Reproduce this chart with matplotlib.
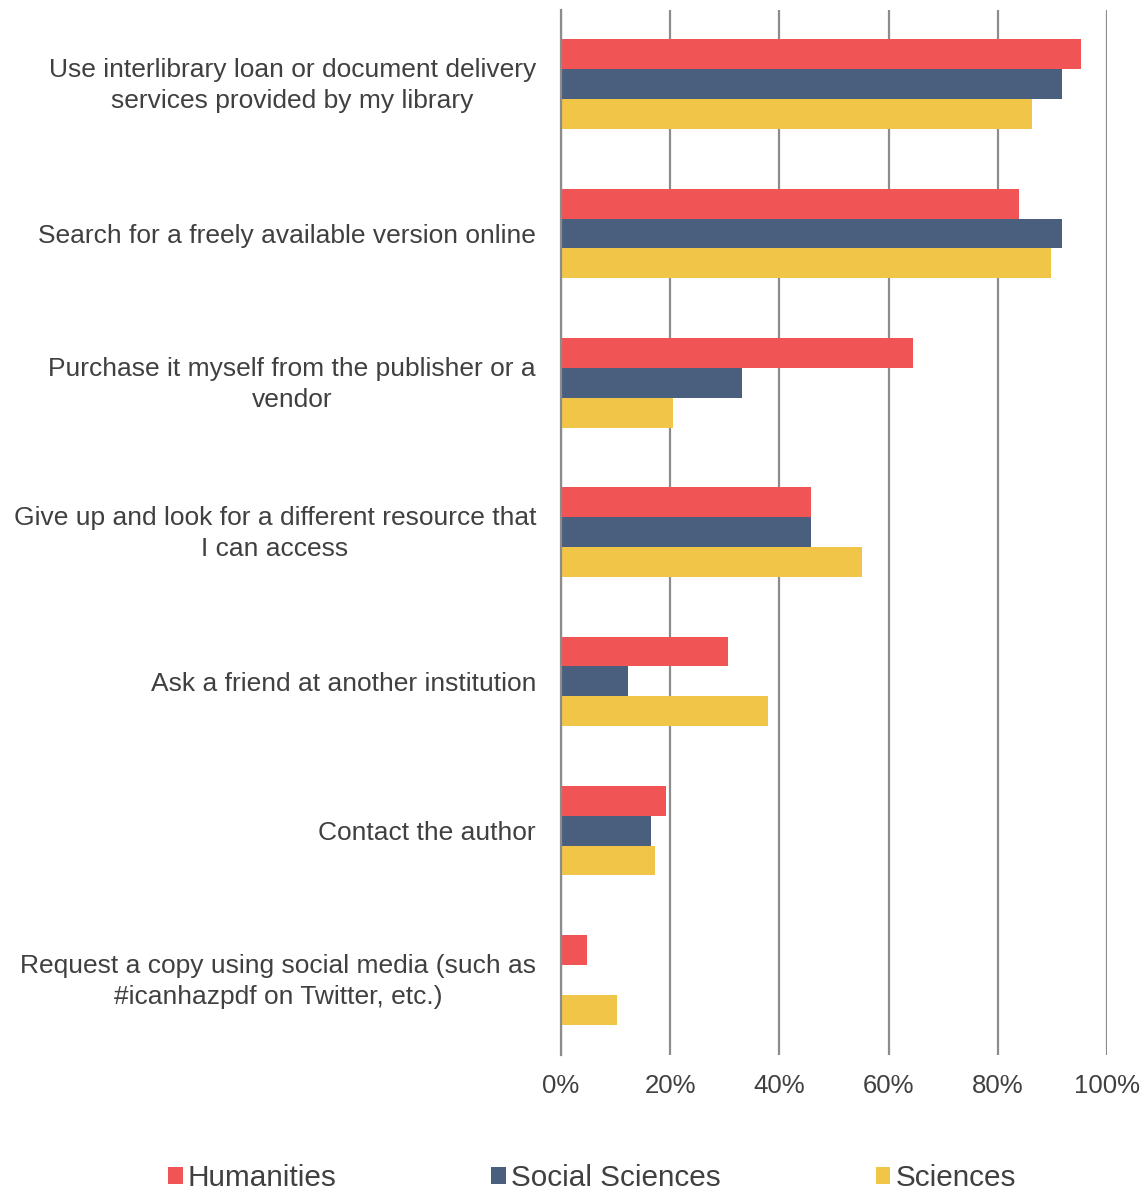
import matplotlib
matplotlib.use("Agg")
import matplotlib.pyplot as plt
import matplotlib.transforms as mtransforms
import numpy as np
from matplotlib.patches import Patch

categories = [
    "Use interlibrary loan or document delivery\nservices provided by my library",
    "Search for a freely available version online",
    "Purchase it myself from the publisher or a\nvendor",
    "Give up and look for a different resource that\nI can access",
    "Ask a friend at another institution",
    "Contact the author",
    "Request a copy using social media (such as\n#icanhazpdf on Twitter, etc.)",
]
series_names = ["Humanities", "Social Sciences", "Sciences"]
humanities = [95.3, 83.9, 64.5, 45.8, 30.6, 19.2, 4.8]
social_sciences = [91.8, 91.8, 33.2, 45.8, 12.3, 16.5, 0.0]
sciences = [86.3, 89.7, 20.5, 55.1, 37.9, 17.2, 10.3]
x_ticks = [0, 20, 40, 60, 80, 100]
x_tick_labels = ["0%", "20%", "40%", "60%", "80%", "100%"]

colors = ["#F05454", "#4A5F7D", "#F0C548"]
text_color = "#404040"
grid_color = "#8C8C8C"

plt.rcParams["font.family"] = ["Liberation Sans", "DejaVu Sans"]

fig = plt.figure(figsize=(11.48, 11.93), dpi=100)
W, H = 1148, 1193
left, right, top, bottom = 561, 1107, 9.5, 1054.5
ax = fig.add_axes([left / W, 1 - bottom / H, (right - left) / W, (bottom - top) / H])

n = len(categories)
y = np.arange(n)
bh = 0.2
for i, (vals, col) in enumerate(zip([humanities, social_sciences, sciences], colors)):
    ax.barh(y + (i - 1) * bh, vals, height=bh, color=col, zorder=3)

ax.set_ylim(n - 0.5, -0.5)
ax.set_xlim(0, 100)
ax.set_xticks(x_ticks)
ax.set_xticklabels(x_tick_labels, fontsize=18.5, color=text_color)
ax.set_yticks(y)
ax.set_yticklabels(categories, fontsize=19, color=text_color, linespacing=1.34)
ax.tick_params(axis="y", length=0, pad=18)
ax.tick_params(axis="x", length=0, pad=14)

# two-line category labels sit a touch high so the block centres on its group
lift = mtransforms.ScaledTranslation(0, 3 / 72, fig.dpi_scale_trans)
for lab in ax.get_yticklabels():
    lab.set_multialignment("center")
    if "\n" in lab.get_text():
        lab.set_transform(lab.get_transform() + lift)

ax.grid(axis="x", color=grid_color, linewidth=1.6, zorder=0)
for s in ["top", "right", "bottom"]:
    ax.spines[s].set_visible(False)
ax.spines["left"].set_color(grid_color)
ax.spines["left"].set_linewidth(1.6)
ax.spines["left"].set_zorder(4)

handles = [Patch(facecolor=c, label=nm) for c, nm in zip(colors, series_names)]
fig.legend(handles=handles, loc="center", bbox_to_anchor=(592 / W, 1 - 1178 / H), ncol=3,
           frameon=False, fontsize=21.4, handlelength=0.5, handleheight=0.5,
           handletextpad=0.17, columnspacing=5.2, labelcolor=text_color,
           borderpad=0, borderaxespad=0)

fig.savefig("out.png", dpi=100)
